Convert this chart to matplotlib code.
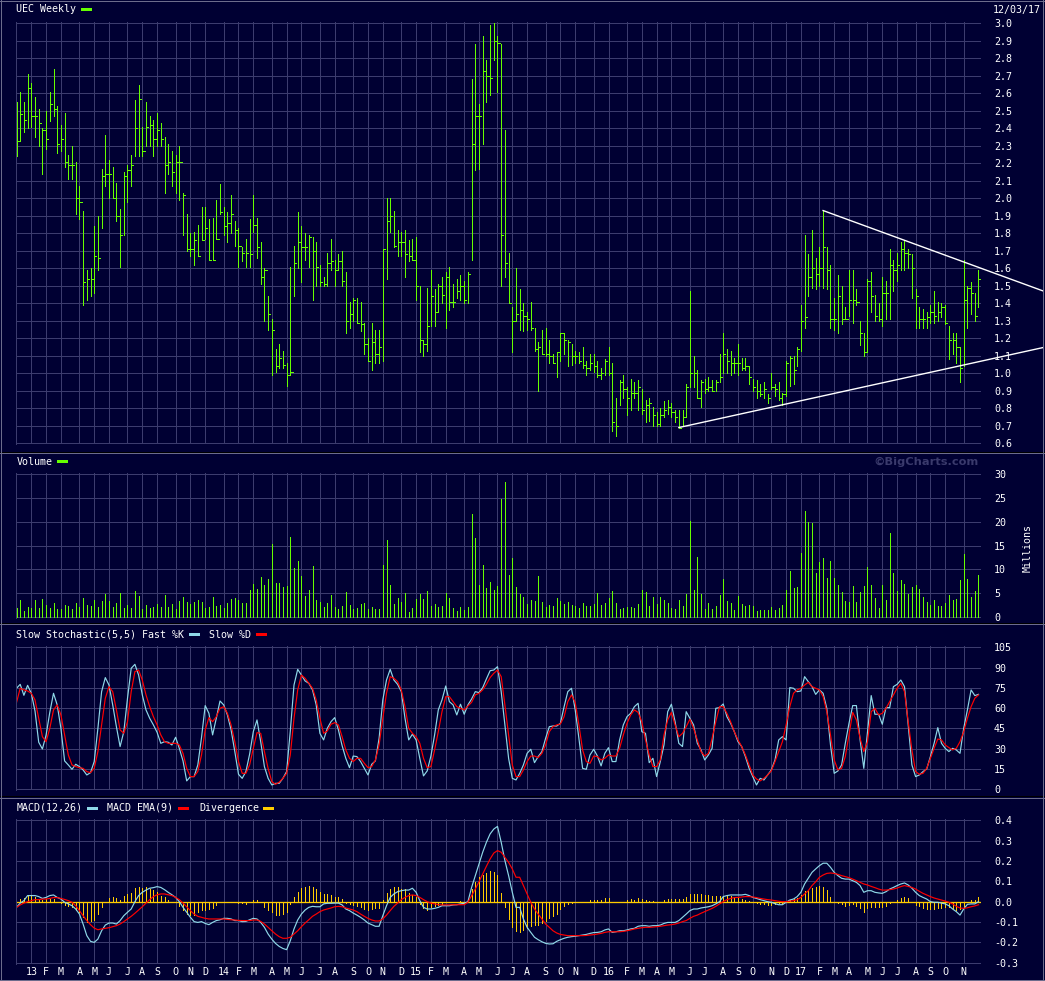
import numpy as np
import pandas as pd
import matplotlib
matplotlib.use('Agg')
import matplotlib.pyplot as plt
from matplotlib.patches import Rectangle
from matplotlib.lines import Line2D

# ---- weekly price data (UEC), Dec 2012 .. Dec 2017 ----
high = [2.55, 2.61, 2.55, 2.71, 2.66, 2.58, 2.51, 2.40, 2.50, 2.61,
        2.74, 2.53, 2.42, 2.49, 2.25, 2.30, 2.21, 2.07, 1.93, 1.59,
        1.60, 1.84, 1.90, 2.17, 2.36, 2.22, 2.18, 2.09, 1.94, 2.15,
        2.19, 2.25, 2.56, 2.65, 2.41, 2.55, 2.47, 2.45, 2.49, 2.43,
        2.35, 2.31, 2.27, 2.25, 2.30, 2.03, 1.91, 1.80, 1.81, 1.85,
        1.95, 1.95, 1.88, 1.89, 1.99, 2.08, 1.95, 1.92, 2.02, 1.87,
        1.83, 1.72, 1.77, 1.88, 2.02, 1.89, 1.75, 1.60, 1.44, 1.31,
        1.14, 1.17, 1.13, 1.06, 1.61, 1.73, 1.92, 1.84, 1.80, 1.79,
        1.78, 1.75, 1.62, 1.55, 1.69, 1.77, 1.65, 1.68, 1.70, 1.58,
        1.41, 1.43, 1.43, 1.41, 1.29, 1.20, 1.29, 1.25, 1.25, 1.71,
        2.00, 2.00, 1.93, 1.82, 1.81, 1.82, 1.76, 1.77, 1.78, 1.50,
        1.19, 1.49, 1.59, 1.48, 1.51, 1.55, 1.58, 1.61, 1.51, 1.54,
        1.56, 1.53, 1.58, 2.68, 2.88, 2.54, 2.93, 2.79, 2.99, 3.00,
        2.93, 2.88, 2.39, 1.69, 1.38, 1.60, 1.48, 1.40, 1.35, 1.41,
        1.26, 1.18, 1.25, 1.26, 1.19, 1.11, 1.12, 1.23, 1.23, 1.19,
        1.17, 1.13, 1.12, 1.15, 1.07, 1.11, 1.11, 1.07, 1.03, 1.08,
        1.15, 1.06, 0.86, 0.96, 0.99, 0.92, 0.97, 0.95, 0.96, 0.91,
        0.85, 0.86, 0.81, 0.78, 0.80, 0.84, 0.85, 0.83, 0.79, 0.79,
        0.79, 0.94, 1.47, 1.10, 1.02, 0.96, 0.97, 0.98, 0.96, 0.96,
        1.11, 1.23, 1.14, 1.13, 1.09, 1.17, 1.09, 1.09, 1.04, 0.97,
        0.96, 0.94, 0.95, 0.88, 1.00, 0.94, 0.95, 0.89, 1.07, 1.10,
        1.10, 1.15, 1.39, 1.79, 1.68, 1.82, 1.66, 1.72, 1.93, 1.72,
        1.62, 1.43, 1.56, 1.50, 1.38, 1.59, 1.59, 1.48, 1.30, 1.23,
        1.54, 1.58, 1.45, 1.40, 1.55, 1.53, 1.71, 1.65, 1.69, 1.75,
        1.76, 1.71, 1.68, 1.48, 1.38, 1.37, 1.35, 1.39, 1.47, 1.41,
        1.40, 1.39, 1.27, 1.23, 1.23, 1.15, 1.65, 1.50, 1.52, 1.46,
        1.59]
low = [2.24, 2.33, 2.38, 2.40, 2.41, 2.35, 2.30, 2.14, 2.28, 2.44,
       2.47, 2.26, 2.27, 2.18, 2.11, 2.11, 1.91, 1.88, 1.39, 1.42,
       1.44, 1.46, 1.59, 1.83, 2.07, 2.00, 2.00, 1.87, 1.61, 1.79,
       1.98, 2.07, 2.24, 2.24, 2.24, 2.30, 2.30, 2.24, 2.30, 2.30,
       2.03, 2.14, 2.07, 2.03, 1.99, 1.79, 1.70, 1.67, 1.62, 1.67,
       1.76, 1.77, 1.65, 1.65, 1.77, 1.91, 1.79, 1.75, 1.80, 1.73,
       1.61, 1.64, 1.61, 1.61, 1.81, 1.66, 1.51, 1.30, 1.25, 0.99,
       1.01, 1.03, 1.03, 0.93, 0.99, 1.44, 1.60, 1.52, 1.65, 1.61,
       1.42, 1.50, 1.50, 1.50, 1.50, 1.59, 1.50, 1.59, 1.50, 1.23,
       1.26, 1.30, 1.29, 1.24, 1.11, 1.07, 1.02, 1.06, 1.06, 1.07,
       1.54, 1.81, 1.72, 1.67, 1.67, 1.55, 1.64, 1.65, 1.42, 1.12,
       1.10, 1.13, 1.27, 1.27, 1.35, 1.40, 1.26, 1.36, 1.38, 1.43,
       1.42, 1.40, 1.40, 1.65, 2.16, 2.17, 2.31, 2.55, 2.59, 2.79,
       2.61, 1.50, 1.55, 1.40, 1.12, 1.30, 1.25, 1.24, 1.25, 1.25,
       1.13, 0.90, 1.11, 1.10, 1.06, 1.06, 0.98, 1.07, 1.11, 1.04,
       1.05, 1.06, 1.06, 1.03, 0.99, 1.02, 1.01, 0.98, 0.97, 0.99,
       0.99, 0.67, 0.64, 0.82, 0.86, 0.76, 0.79, 0.86, 0.79, 0.77,
       0.72, 0.73, 0.70, 0.70, 0.70, 0.75, 0.77, 0.75, 0.72, 0.69,
       0.70, 0.75, 0.92, 0.92, 0.86, 0.81, 0.89, 0.90, 0.90, 0.90,
       0.95, 1.00, 1.00, 0.99, 1.00, 0.99, 1.02, 1.02, 0.94, 0.90,
       0.86, 0.87, 0.86, 0.83, 0.91, 0.87, 0.85, 0.82, 0.87, 0.93,
       0.94, 1.04, 1.13, 1.26, 1.44, 1.49, 1.48, 1.50, 1.49, 1.48,
       1.26, 1.25, 1.23, 1.28, 1.31, 1.33, 1.29, 1.39, 1.16, 1.10,
       1.12, 1.35, 1.30, 1.30, 1.27, 1.31, 1.31, 1.47, 1.53, 1.59,
       1.59, 1.60, 1.43, 1.26, 1.26, 1.26, 1.26, 1.29, 1.29, 1.30,
       1.32, 1.28, 1.08, 1.11, 1.06, 0.95, 1.04, 1.26, 1.34, 1.30,
       1.38]
close = [2.33, 2.48, 2.45, 2.63, 2.47, 2.47, 2.43, 2.39, 2.34, 2.54,
         2.51, 2.31, 2.34, 2.21, 2.19, 2.19, 2.00, 1.98, 1.52, 1.54,
         1.54, 1.67, 1.66, 2.13, 2.14, 2.14, 2.00, 1.90, 1.79, 2.13,
         2.16, 2.19, 2.40, 2.57, 2.27, 2.41, 2.42, 2.34, 2.39, 2.34,
         2.19, 2.21, 2.15, 2.21, 2.21, 2.02, 1.71, 1.71, 1.76, 1.67,
         1.76, 1.83, 1.65, 1.65, 1.77, 1.92, 1.84, 1.86, 1.91, 1.82,
         1.73, 1.69, 1.69, 1.68, 1.85, 1.72, 1.55, 1.59, 1.34, 1.25,
         1.04, 1.09, 1.05, 0.99, 1.01, 1.63, 1.75, 1.72, 1.72, 1.78,
         1.70, 1.61, 1.52, 1.51, 1.63, 1.64, 1.59, 1.64, 1.53, 1.30,
         1.34, 1.42, 1.29, 1.28, 1.17, 1.07, 1.18, 1.11, 1.15, 1.71,
         1.87, 1.90, 1.73, 1.75, 1.75, 1.68, 1.67, 1.65, 1.50, 1.19,
         1.17, 1.27, 1.44, 1.35, 1.50, 1.45, 1.55, 1.41, 1.41, 1.47,
         1.50, 1.42, 1.57, 2.31, 2.47, 2.47, 2.73, 2.70, 2.69, 2.90,
         2.89, 1.79, 1.63, 1.40, 1.30, 1.34, 1.36, 1.33, 1.31, 1.26,
         1.14, 1.15, 1.11, 1.11, 1.10, 1.06, 1.12, 1.23, 1.19, 1.18,
         1.10, 1.10, 1.07, 1.05, 1.03, 1.06, 1.04, 0.99, 1.00, 1.07,
         1.00, 0.72, 0.70, 0.95, 0.91, 0.86, 0.89, 0.89, 0.92, 0.79,
         0.82, 0.83, 0.76, 0.71, 0.76, 0.79, 0.81, 0.78, 0.75, 0.69,
         0.75, 0.92, 1.00, 1.00, 0.86, 0.95, 0.91, 0.92, 0.90, 0.95,
         0.98, 1.11, 1.07, 1.06, 1.06, 1.06, 1.03, 1.04, 0.98, 0.92,
         0.90, 0.88, 0.91, 0.86, 0.92, 0.91, 0.86, 0.88, 1.06, 1.09,
         1.02, 1.14, 1.30, 1.32, 1.55, 1.60, 1.57, 1.60, 1.72, 1.59,
         1.31, 1.31, 1.44, 1.31, 1.31, 1.42, 1.42, 1.41, 1.23, 1.12,
         1.53, 1.44, 1.33, 1.31, 1.46, 1.46, 1.62, 1.59, 1.62, 1.71,
         1.69, 1.68, 1.60, 1.44, 1.31, 1.31, 1.32, 1.35, 1.33, 1.35,
         1.38, 1.29, 1.19, 1.19, 1.15, 1.03, 1.42, 1.49, 1.46, 1.33,
         1.54]

# volume, millions of shares
volume = [1.8, 3.5, 1.2, 2.0, 1.8, 3.5, 1.8, 3.7, 2.5, 1.8,
          2.9, 1.6, 1.6, 2.5, 2.2, 1.6, 2.9, 2.0, 3.9, 2.5,
          2.2, 3.5, 2.0, 3.3, 4.8, 3.3, 2.0, 2.9, 5.0, 1.8,
          2.5, 1.8, 5.4, 4.4, 1.6, 2.5, 1.8, 2.0, 2.7, 2.0,
          4.6, 2.0, 2.7, 1.6, 3.3, 4.1, 3.1, 2.7, 3.1, 3.5,
          3.1, 1.8, 2.0, 4.1, 2.2, 2.5, 1.8, 2.9, 3.7, 3.9,
          3.5, 2.9, 2.9, 5.6, 6.9, 5.8, 8.4, 6.7, 7.9, 15.3,
          7.1, 7.1, 6.3, 6.5, 16.8, 10.3, 11.7, 8.6, 4.4, 5.6,
          10.7, 3.5, 3.1, 2.0, 2.9, 4.6, 2.0, 1.6, 2.2, 5.2,
          2.5, 1.6, 1.8, 2.7, 2.9, 1.6, 2.0, 1.6, 1.6, 10.9,
          16.2, 6.7, 2.7, 3.9, 3.1, 5.0, 1.0, 1.8, 3.7, 4.8,
          3.7, 5.4, 2.2, 2.7, 2.0, 2.2, 5.0, 3.9, 1.8, 1.2,
          2.0, 1.4, 2.0, 21.6, 16.6, 6.7, 10.9, 6.0, 7.3, 5.6,
          6.5, 24.8, 28.4, 8.8, 12.4, 6.3,
          4.8, 4.1, 2.7, 3.5, 3.3, 8.6, 3.1, 2.0, 2.5, 2.2,
          3.9, 3.3, 2.7, 3.1, 2.5, 2.2, 1.8, 2.9, 2.2, 2.2,
          2.7, 5.0, 2.5, 2.9, 3.9, 5.4, 2.9, 1.6, 1.8, 2.0,
          2.0, 1.8, 2.7, 5.6, 5.2, 2.2, 4.1, 2.7, 4.1, 3.5,
          2.9, 1.8, 1.6, 3.5, 2.2, 4.8, 20.2, 5.6, 12.6, 4.8,
          1.6, 2.9, 1.6, 2.2, 4.6, 7.9, 3.3, 2.9, 1.4, 4.4,
          2.7, 2.2, 2.5, 2.2, 1.2, 1.4, 1.4, 1.4, 2.0, 1.4,
          1.8, 2.5, 5.6, 9.6, 6.0, 6.3, 13.4, 22.3, 20.0, 19.7,
          9.2, 11.5, 12.4, 8.2, 11.7, 8.2, 6.7, 5.2, 3.3, 3.1,
          6.5, 3.1, 5.2, 6.5, 10.5, 6.7, 3.9, 1.8, 6.7, 3.5,
          17.6, 9.2, 5.4, 7.7, 6.9, 4.8, 6.3, 6.7, 5.8, 4.1,
          3.1, 2.5, 3.5, 2.3, 2.3, 2.9, 4.6, 3.5, 3.7, 7.7,
          13.2, 7.9, 4.1, 5.4, 8.8]

# slow stochastic (5,5)
fast_k = [74.7, 77.6, 69.5, 76.9, 71, 57.9, 34.8, 29.8, 40.2, 56.9,
          71, 62.4, 45.1, 21, 18, 14.8, 18.5, 16.8, 14.3, 10.6,
          12.3, 20.5, 45.1, 72.2, 82.6, 77.1, 62.4, 46.3, 31.6, 42.6,
          67.3, 89.5, 92.4, 84.5, 69.8, 58.7, 52.5, 47.6, 42.1, 34,
          35.2, 34.8, 32.8, 38.5, 30.3, 21, 6.2, 9.4, 9.4, 18,
          38.2, 61.9, 56.2, 40.2, 52.5, 65.3, 62.4, 55, 43.9, 27.9,
          11.1, 8.1, 13.1, 25.9, 42.6, 51.3, 35.2, 16.8, 8.1, 3.2,
          4.4, 4.4, 8.1, 13.1, 43.1, 77.1, 88.7, 84.5, 80.1, 78.4,
          73.5, 62.4, 41.4, 36.5, 45.1, 50, 53, 43.9, 32.3, 22.9,
          16, 24.6, 24.2, 20.5, 15.5, 10.6, 18.5, 21, 37.7, 66.1,
          80.8, 88.7, 80.8, 77.6, 72.2, 52.5, 36.5, 40.7, 36.5, 22.9,
          9.9, 13.6, 24.6, 40.2, 58.7, 66.1, 76.4, 64.8, 62.4, 55,
          62.9, 55.5, 62.4, 66.8, 72.2, 71.5, 75.2, 81.6, 87.7, 88.2,
          90.7, 72.2, 47.6, 22.9, 8.1, 6.9,
          11.8, 18, 26.6, 29.6, 19.7, 24.2, 27.9, 37.7, 46.3, 46.8,
          46.8, 48.8, 61.1, 72.2, 74.7, 58.7, 37.7, 15.5, 14.8, 25.4,
          29.6, 24.6, 17.3, 26.6, 30.8, 20.5, 20.5, 36.5, 47.6, 53.7,
          56.2, 61.1, 63.6, 42.6, 41.4, 19.7, 22.9, 9.4, 20.5, 32.8,
          57.4, 62.9, 50, 34, 31.6, 57.4, 52.5, 47.6, 34, 29.1,
          21.7, 25.4, 30.3, 59.9, 60.4, 63.1, 53.7, 48.8, 42.6, 35.2,
          31.6, 24.2, 15.5, 9.4, 3.2, 8.1, 6.9, 10.6, 14.3, 21.7,
          36.5, 38.9, 36.5, 75.2, 74.7, 72.2, 72.7, 83.3, 79.6, 75.9,
          70.2, 73.5, 71, 59.9, 32.8, 11.8, 13.6, 18, 34, 48.8,
          61.9, 61.9, 36.5, 15.5, 42.6, 69.3, 55.5, 55.5, 48.1, 60.4,
          60.4, 75.9, 77.6, 80.8, 75.9, 47.6, 18, 9.4, 10.6, 13.1,
          15, 24.2, 34, 45.6, 34, 30.3, 27.9, 30.3, 29.1, 26.6,
          45.1, 58.7, 73.5, 69.3, 70.2]
slow_d = [64.1, 74.7, 73.5, 72.7, 71, 66.1, 52.5, 38.9, 35.2, 45.1,
          58.7, 62.4, 55, 40.2, 25.4, 18, 16.8, 16, 15.5, 13.1,
          12.3, 15.5, 27.9, 47.6, 67.3, 75.9, 72.2, 58.7, 43.9, 41.4,
          50, 72.2, 87, 88.2, 80.8, 69.8, 61.1, 53.7, 47.6, 40.2,
          35.2, 34, 34, 34, 32.8, 26.6, 15.5, 9.4, 9.4, 13.1,
          25.4, 43.9, 53, 50, 53.7, 59.9, 61.1, 56.2, 47.6, 35.2,
          20.5, 11.8, 11.8, 18, 30.3, 41.9, 41.4, 27.9, 15.5, 5.7,
          3.7, 5.2, 8.1, 11.8, 25.4, 52.5, 73.5, 84.5, 82.1, 78.4,
          74.7, 66.1, 52.5, 41.4, 43.1, 48.1, 49.3, 47.6, 38.9, 29.1,
          22.9, 20.5, 22.9, 22.9, 19.2, 16, 16.8, 21.7, 32.8, 52.5,
          71, 83.3, 82.1, 79.6, 73.5, 61.1, 45.1, 41.4, 38.9, 34,
          22.9, 16, 16.8, 29.1, 42.6, 57.4, 68.5, 68.5, 64.8, 61.1,
          59.9, 58.7, 61.6, 64.3, 69.8, 71, 73.5, 77.6, 82.6, 85.8,
          88.2, 83.3, 62.4, 40.2, 18, 9.4,
          9.4, 14.3, 20.5, 24.6, 24.6, 23.4, 26.6, 32.8, 42.6, 46.3,
          47.6, 48.3, 53.7, 64.8, 69.8, 64.3, 47.6, 29.1, 20.5, 19.2,
          24.6, 24.2, 21.7, 22.9, 25.4, 24.6, 24.6, 30.3, 40.2, 48.8,
          55, 58.7, 56.9, 50, 36.5, 25.4, 16.8, 16.8, 21.7, 40.2,
          51.3, 56.9, 47.6, 38.9, 41.4, 46.3, 51.8, 45.1, 36.5, 27.9,
          24.6, 26.6, 37.7, 50, 61.1, 61.1, 56.2, 50, 42.6, 36.5,
          31.6, 25.4, 18, 10.6, 7.6, 6.2, 8.1, 10.6, 13.6, 20.5,
          27.9, 35.2, 47.6, 61.1, 71, 73.5, 74.7, 77.1, 79.1, 75.9,
          74.7, 73.5, 68.5, 57.4, 40.2, 21.7, 14.3, 15.5, 24.2, 40.2,
          56.9, 51.3, 37.7, 27.9, 35.2, 57.4, 59.9, 55, 56.2, 59.9,
          64.8, 69.8, 74.7, 78.4, 72.2, 50, 29.1, 13.1, 11.1, 11.8,
          15.5, 22.9, 30.3, 37.2, 36.5, 32.8, 30.8, 29.1, 30.3, 35.2,
          42.6, 52.5, 61.1, 67.3, 69.8]

# MACD(12,26), its EMA(9) and the divergence histogram
macd = [-0.028, -0.007, 0.005, 0.03, 0.03, 0.03, 0.025, 0.016, 0.021, 0.03,
        0.033, 0.021, 0.013, -0.003, -0.011, -0.02, -0.036, -0.061, -0.11, -0.167,
        -0.195, -0.2, -0.184, -0.143, -0.115, -0.105, -0.105, -0.11, -0.093, -0.069,
        -0.052, -0.036, 0, 0.03, 0.046, 0.057, 0.066, 0.069, 0.074, 0.07,
        0.059, 0.046, 0.034, 0.021, 0, -0.028, -0.052, -0.077, -0.098, -0.102,
        -0.098, -0.107, -0.113, -0.102, -0.093, -0.089, -0.082, -0.082, -0.085, -0.093,
        -0.093, -0.098, -0.097, -0.089, -0.082, -0.085, -0.102, -0.126, -0.159, -0.184,
        -0.205, -0.22, -0.23, -0.236, -0.192, -0.134, -0.09, -0.061, -0.041, -0.028,
        -0.023, -0.025, -0.025, -0.011, -0.008, -0.008, -0.007, -0.007, -0.016, -0.036,
        -0.044, -0.056, -0.066, -0.077, -0.09, -0.105, -0.113, -0.121, -0.121, -0.069,
        -0.02, 0.021, 0.038, 0.049, 0.054, 0.057, 0.057, 0.066, 0.046, 0.005,
        -0.028, -0.036, -0.036, -0.033, -0.028, -0.02, -0.02, -0.02, -0.016, -0.015,
        -0.011, -0.008, 0, 0.07, 0.128, 0.185, 0.243, 0.292, 0.333, 0.357,
        0.37, 0.292, 0.202, 0.128, 0.046, -0.028,
        -0.028, -0.085, -0.126, -0.151, -0.175, -0.187, -0.197, -0.205, -0.208, -0.207,
        -0.195, -0.187, -0.18, -0.175, -0.172, -0.17, -0.167, -0.164, -0.161, -0.156,
        -0.152, -0.151, -0.148, -0.139, -0.134, -0.151, -0.148, -0.143, -0.143, -0.139,
        -0.134, -0.131, -0.121, -0.118, -0.118, -0.121, -0.118, -0.118, -0.115, -0.107,
        -0.102, -0.102, -0.102, -0.093, -0.077, -0.061, -0.044, -0.036, -0.036, -0.031,
        -0.028, -0.025, -0.02, -0.011, 0, 0.025, 0.03, 0.033, 0.033, 0.033,
        0.033, 0.036, 0.03, 0.021, 0.016, 0.01, 0.005, 0, -0.003, -0.01,
        -0.015, -0.015, -0.003, 0.008, 0.013, 0.025, 0.046, 0.087, 0.115, 0.144,
        0.161, 0.177, 0.189, 0.189, 0.169, 0.144, 0.128, 0.115, 0.111, 0.111,
        0.103, 0.095, 0.079, 0.046, 0.054, 0.054, 0.046, 0.043, 0.041, 0.049,
        0.062, 0.07, 0.079, 0.087, 0.092, 0.082, 0.066, 0.046, 0.03, 0.021,
        0.013, 0, -0.003, -0.003, -0.007, -0.011, -0.02, -0.036, -0.049, -0.066,
        -0.036, -0.013, -0.011, -0.011, 0]
macd_ema = [-0.028, -0.016, -0.007, 0, 0.005, 0.01, 0.01, 0.013, 0.013, 0.016,
            0.02, 0.02, 0.016, 0.011, 0.005, -0.003, -0.02, -0.044, -0.069, -0.093,
            -0.113, -0.13, -0.138, -0.134, -0.131, -0.128, -0.123, -0.118, -0.11, -0.098,
            -0.085, -0.072, -0.057, -0.041, -0.025, -0.007, 0.01, 0.025, 0.034, 0.038,
            0.038, 0.034, 0.03, 0.021, 0.01, -0.007, -0.025, -0.044, -0.061, -0.072,
            -0.077, -0.082, -0.085, -0.085, -0.085, -0.085, -0.085, -0.087, -0.089, -0.09,
            -0.092, -0.093, -0.093, -0.093, -0.09, -0.09, -0.097, -0.11, -0.126, -0.143,
            -0.159, -0.172, -0.18, -0.18, -0.175, -0.159, -0.143, -0.123, -0.105, -0.089,
            -0.072, -0.061, -0.049, -0.041, -0.036, -0.031, -0.025, -0.023, -0.025, -0.031,
            -0.036, -0.041, -0.049, -0.061, -0.072, -0.082, -0.09, -0.095, -0.095, -0.085,
            -0.066, -0.044, -0.023, -0.007, 0.01, 0.021, 0.03, 0.033, 0.03, 0.021,
            0.01, 0, -0.007, -0.011, -0.015, -0.016, -0.016, -0.016, -0.015, -0.015,
            -0.015, -0.015, -0.003, 0.03, 0.062, 0.098, 0.136, 0.174, 0.21, 0.239,
            0.251, 0.243, 0.218, 0.193, 0.161, 0.12,
            0.12, 0.079, 0.038, -0.003, -0.036, -0.061, -0.085, -0.11, -0.126, -0.143,
            -0.154, -0.161, -0.164, -0.167, -0.167, -0.167, -0.167, -0.167, -0.166, -0.164,
            -0.162, -0.159, -0.156, -0.151, -0.148, -0.148, -0.148, -0.148, -0.146, -0.143,
            -0.139, -0.134, -0.131, -0.128, -0.126, -0.126, -0.125, -0.123, -0.121, -0.118,
            -0.115, -0.113, -0.11, -0.105, -0.098, -0.093, -0.082, -0.072, -0.066, -0.057,
            -0.049, -0.041, -0.033, -0.023, -0.011, 0, 0.01, 0.016, 0.02, 0.021,
            0.023, 0.025, 0.025, 0.023, 0.02, 0.016, 0.013, 0.01, 0.008, 0.005,
            0.002, 0, 0, 0.002, 0.005, 0.01, 0.021, 0.038, 0.054, 0.079,
            0.098, 0.12, 0.131, 0.139, 0.141, 0.139, 0.134, 0.128, 0.123, 0.118,
            0.111, 0.103, 0.095, 0.087, 0.082, 0.075, 0.069, 0.062, 0.057, 0.057,
            0.059, 0.062, 0.067, 0.074, 0.079, 0.075, 0.07, 0.062, 0.051, 0.041,
            0.033, 0.025, 0.018, 0.013, 0.008, 0.003, -0.003, -0.011, -0.023, -0.031,
            -0.033, -0.03, -0.025, -0.021, -0.015]
divergence = [0, 0.013, 0.018, 0.028, 0.028, 0.021, 0.013, 0.010, 0.013, 0.013,
              0.013, 0, -0.008, -0.016, -0.020, -0.026, -0.041, -0.051, -0.077, -0.1,
              -0.097, -0.092, -0.061, -0.028, 0, 0.016, 0.021, 0.016, 0.008, 0.028,
              0.036, 0.044, 0.066, 0.074, 0.066, 0.074, 0.061, 0.057, 0.046, 0.028,
              0.021, 0.008, 0, 0, -0.020, -0.043, -0.061, -0.067, -0.064, -0.051,
              -0.043, -0.039, -0.036, -0.031, -0.016, 0, 0, 0, 0, 0,
              -0.008, -0.008, -0.011, 0, 0.007, 0.007, 0, -0.026, -0.043, -0.052,
              -0.064, -0.064, -0.061, -0.052, -0.013, 0.021, 0.046, 0.066, 0.070, 0.075,
              0.070, 0.061, 0.046, 0.036, 0.036, 0.033, 0.025, 0.021, 0.013, -0.007,
              -0.011, -0.016, -0.021, -0.025, -0.034, -0.039, -0.034, -0.031, -0.031, 0.010,
              0.041, 0.061, 0.070, 0.070, 0.061, 0.061, 0.041, 0.033, 0.021, -0.011,
              -0.031, -0.039, -0.028, -0.020, -0.016, -0.011, 0, 0, 0, 0,
              0.005, 0, 0, 0.061, 0.097, 0.121, 0.133, 0.139, 0.152, 0.144,
              0.13, 0.041, -0.026, -0.084, -0.125, -0.143,
              -0.149, -0.138, -0.130, -0.121, -0.113, -0.113, -0.105, -0.093, -0.080, -0.072,
              -0.059, -0.036, -0.023, -0.011, -0.007, 0, 0, 0, 0, 0.007,
              0.007, 0.007, 0.007, 0.016, 0.016, 0, 0, 0, 0, 0.007,
              0.011, 0.007, 0.016, 0.011, 0.008, 0.005, 0.005, 0, 0, 0.007,
              0.011, 0.011, 0.011, 0.011, 0.011, 0.021, 0.038, 0.039, 0.036, 0.036,
              0.031, 0.031, 0.026, 0.026, 0.026, 0.030, 0.030, 0.026, 0.021, 0.016,
              0.013, 0.007, 0.003, 0, -0.005, -0.010, -0.011, -0.015, -0.015, -0.011,
              -0.008, -0.005, 0, 0.007, 0.011, 0.018, 0.031, 0.051, 0.059, 0.067,
              0.070, 0.075, 0.072, 0.056, 0.023, 0, -0.005, -0.011, -0.020, -0.016,
              -0.013, -0.020, -0.031, -0.051, -0.031, -0.026, -0.026, -0.026, -0.026, -0.023,
              -0.008, 0, 0.010, 0.016, 0.021, 0.016, 0, -0.015, -0.023, -0.031,
              -0.036, -0.036, -0.036, -0.031, -0.031, -0.026, -0.026, -0.031, -0.039, -0.036,
              -0.023, 0, 0.010, 0.010, 0.021]

last_date = '2017-12-03'
# trendlines drawn on the chart: bar-index anchor pairs on highs / lows
upper_anchor = (218, 240)
lower_anchor = (179, 207)

# ---- styling ----
W, H = 1045, 981
BG = '#000033'
GRID = '#3c3c6e'
SEP = '#6c6c8c'
GREEN = '#66ff00'
CYAN = '#8fd8e8'
RED = '#ff0000'
ORANGE = '#ffcc00'
PX = 0.72
FS = 7.2
plt.rcParams['font.family'] = 'DejaVu Sans Mono'

n = len(close)
idx = np.arange(n)
weeks = pd.date_range(end=last_date, periods=n, freq='W-SUN')
months = pd.date_range(weeks[0] - pd.offsets.MonthBegin(1), weeks[-1], freq='MS')
grid_idx, grid_lab = [], []
for m in months:
    i = int(np.searchsorted(weeks.values, np.datetime64(m)))
    if 0 < i < n - 1:
        grid_idx.append(i)
        grid_lab.append(m.strftime('%y') if m.month == 1 else m.strftime('%b')[0])

# pixel geometry: bar 0 at x=16.5, spacing 3.7 px
X0, DX = 16.5, 3.7
XL = (16 - X0) / DX
XR = (981 - X0) / DX

fig = plt.figure(figsize=(W / 100, H / 100), dpi=100)
fig.patch.set_facecolor(BG)


def make_axes(top, bottom, ylo, yhi, ticks, labels):
    e = (yhi - ylo) / (bottom - top)
    ax = fig.add_axes([16 / W, 1 - (bottom + 1) / H, (981 - 16) / W, (bottom - top + 2) / H])
    ax.set_facecolor(BG)
    ax.set_xlim(XL, XR)
    ax.set_ylim(ylo - e, yhi + e)
    for s in ['top', 'right', 'bottom']:
        ax.spines[s].set_visible(False)
    ax.spines['left'].set_color(GRID)
    ax.spines['left'].set_linewidth(PX)
    ax.set_xticks(grid_idx)
    ax.set_xticklabels([])
    ax.set_yticks(ticks)
    ax.set_yticklabels(labels)
    ax.yaxis.tick_right()
    ax.tick_params(axis='both', length=0, colors='white', labelsize=FS)
    ax.tick_params(axis='y', pad=9.4)
    ax.grid(True, color=GRID, lw=PX, antialiased=False)
    ax.set_axisbelow(True)
    return ax


def ftext(x, y, s, **kw):
    kw.setdefault('color', 'white')
    kw.setdefault('fontsize', FS)
    kw.setdefault('va', 'center')
    kw.setdefault('ha', 'left')
    fig.text(x / W, 1 - y / H, s, **kw)


def swatch(x, y, color, w=11, h=3):
    fig.add_artist(Rectangle((x / W, 1 - (y + h / 2) / H), w / W, h / H,
                             transform=fig.transFigure, color=color, lw=0))


def hline(y, color, x0=0, x1=W):
    fig.add_artist(Line2D([x0 / W, x1 / W], [1 - y / H, 1 - y / H], color=color,
                          lw=PX, transform=fig.transFigure, antialiased=False))


# ---- price panel ----
pt = np.round(np.arange(0.6, 3.01, 0.1), 1)
ax1 = make_axes(23.3, 443.3, 0.6, 3.0, pt, ['%.1f' % v for v in pt])
ax1.vlines(idx, low, high, color=GREEN, lw=PX, antialiased=False)
ax1.hlines(close, idx, idx + 0.6, color=GREEN, lw=PX, antialiased=False)

x_end = (1043 - X0) / DX
hi = np.array(high)
lo = np.array(low)
for (a, b), ser in [(upper_anchor, hi), (lower_anchor, lo)]:
    slope = (ser[b] - ser[a]) / (b - a)
    ax1.plot([a, x_end], [ser[a], ser[a] + slope * (x_end - a)], color='white',
             lw=1.0, clip_on=False, zorder=5)

ftext(16.5, 9.5, 'UEC Weekly')
swatch(81, 9.5, GREEN)
ftext(993, 9.5, '12/03/17')

# ---- volume panel ----
vt = list(range(0, 31, 5))
ax2 = make_axes(474.3, 616.7, 0, 30, vt, [str(v) for v in vt])
ax2.vlines(idx, 0, volume, color=GREEN, lw=PX, antialiased=False)
ftext(16.5, 461.5, 'Volume')
swatch(57, 461.5, GREEN)
ftext(979, 461.5, '\u00a9BigCharts.com', ha='right', color='#3a3a6c',
      fontsize=8.2, fontweight='bold', family='DejaVu Sans')
ftext(1028, 548, 'Millions', rotation=90, ha='center')

# ---- stochastic panel ----
st = list(range(0, 106, 15))
ax3 = make_axes(647.3, 789.3, 0, 105, st, [str(v) for v in st])
ax3.plot(idx, fast_k, color=CYAN, lw=0.85)
ax3.plot(idx, slow_d, color=RED, lw=0.85)
ftext(16.5, 634.5, 'Slow Stochastic(5,5) Fast %K')
swatch(189, 634.5, CYAN)
ftext(209, 634.5, 'Slow %D')
swatch(256, 634.5, RED)

# ---- MACD panel ----
mt = np.round(np.arange(-0.3, 0.41, 0.1), 1)
ax4 = make_axes(820.3, 962.7, -0.3, 0.4, mt, ['%.1f' % v for v in mt])
ax4.vlines(idx, 0, divergence, color=ORANGE, lw=PX, antialiased=False)
ax4.axhline(0, color=ORANGE, lw=PX * 1.3)
ax4.plot(idx, macd, color=CYAN, lw=0.85)
ax4.plot(idx, macd_ema, color=RED, lw=0.85)
ax4.set_xticklabels(grid_lab)
ax4.tick_params(axis='x', pad=2.5)
ftext(16.5, 808, 'MACD(12,26)')
swatch(87, 808, CYAN)
ftext(107, 808, 'MACD EMA(9)')
swatch(178, 808, RED)
ftext(199, 808, 'Divergence')
swatch(263, 808, ORANGE)

# ---- panel separators and outer frame ----
for y in (451.5, 622.5, 796):
    hline(y, '#000000')
    hline(y + 1.5, SEP)
hline(0.5, SEP)
hline(979.5, SEP)
for x in (0.5, 1042.5):
    fig.add_artist(Line2D([x / W, x / W], [0, 1], color=SEP, lw=PX,
                          transform=fig.transFigure, antialiased=False))

fig.savefig('out.png', dpi=100, facecolor=BG)
